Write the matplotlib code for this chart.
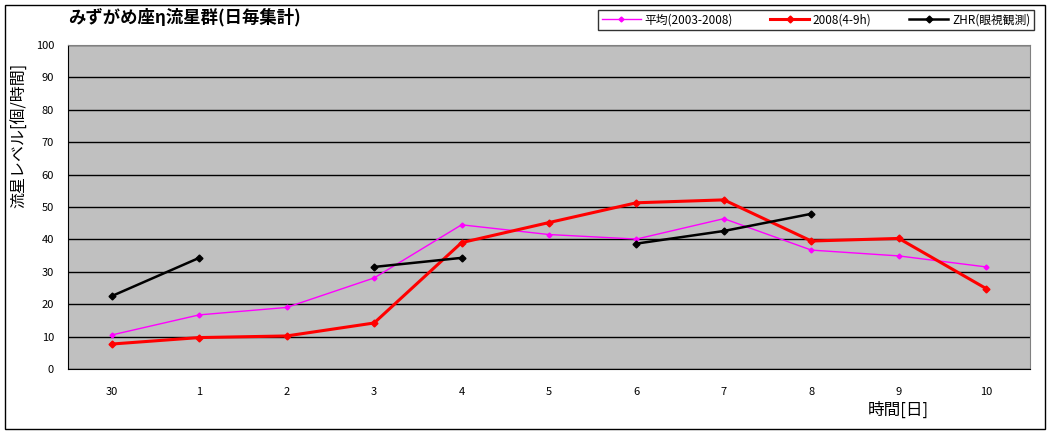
import numpy as np
import matplotlib.pyplot as plt
from matplotlib.patches import Rectangle

plt.rcParams['font.family'] = ['Noto Sans CJK JP', 'DejaVu Sans']

days = ['30', '1', '2', '3', '4', '5', '6', '7', '8', '9', '10']
avg = [10.5, 16.7, 19.0, 28.1, 44.5, 41.5, 40.1, 46.4, 36.7, 34.9, 31.5]
y2008 = [7.7, 9.7, 10.2, 14.2, 39.0, 45.2, 51.3, 52.2, 39.5, 40.3, 24.8]
zhr = [22.5, 34.3, np.nan, 31.5, 34.3, np.nan, 38.7, 42.6, 47.9, np.nan, np.nan]

x = np.arange(len(days))

fig = plt.figure(figsize=(10.51, 4.34), dpi=100)
ax = fig.add_axes([68/1051, 65/434, 962/1051, 324/434])
ax.set_facecolor('#c0c0c0')

# グリッド
ax.set_ylim(0, 100)
ax.set_xlim(-0.5, len(days) - 0.5)
ax.set_yticks(range(0, 101, 10))
ax.yaxis.grid(True, color='black', lw=1)
ax.set_axisbelow(True)

ax.plot(x, avg, color='#ff00ff', lw=1, marker='D', ms=2.5, label='平均(2003-2008)')
ax.plot(x, y2008, color='#ff0000', lw=2.2, marker='D', ms=3.5, label='2008(4-9h)')
ax.plot(x, zhr, color='black', lw=1.8, marker='D', ms=3.5, label='ZHR(眼視観測)')

ax.set_xticks(x)
ax.set_xticklabels(days, fontsize=8)
ax.tick_params(axis='y', labelsize=8, length=0, pad=10)
ax.tick_params(axis='x', length=0, pad=13)
for s in ['top', 'right']:
    ax.spines[s].set_color('#808080')
ax.spines['left'].set_color('black')
ax.spines['bottom'].set_color('black')

fig.text(68/1051, 1 - 17/434, 'みずがめ座η流星群(日毎集計)', fontsize=12.5, fontweight='bold',
         style='italic', va='center', ha='left')
fig.text(20/1051, 1 - 135/434, '流星レベル[個/時間]', fontsize=11.5, rotation=90,
         va='center', ha='center')
fig.text(898/1051, 1 - 410/434, '時間[日]', fontsize=12, va='center', ha='center')

leg = fig.legend(loc='center', bbox_to_anchor=(816/1051, 1 - 20/434), ncol=3, fontsize=8.5,
                 frameon=True, fancybox=False, edgecolor='black', borderpad=0.3,
                 handlelength=3.3, columnspacing=3.2, handletextpad=0.3)
leg.get_frame().set_linewidth(1)

fig.patches.append(Rectangle((5/1051, 5/434), 1040/1051, 424/434, transform=fig.transFigure,
                             fill=False, edgecolor='black', lw=1))

fig.savefig('out.png', dpi=100)
